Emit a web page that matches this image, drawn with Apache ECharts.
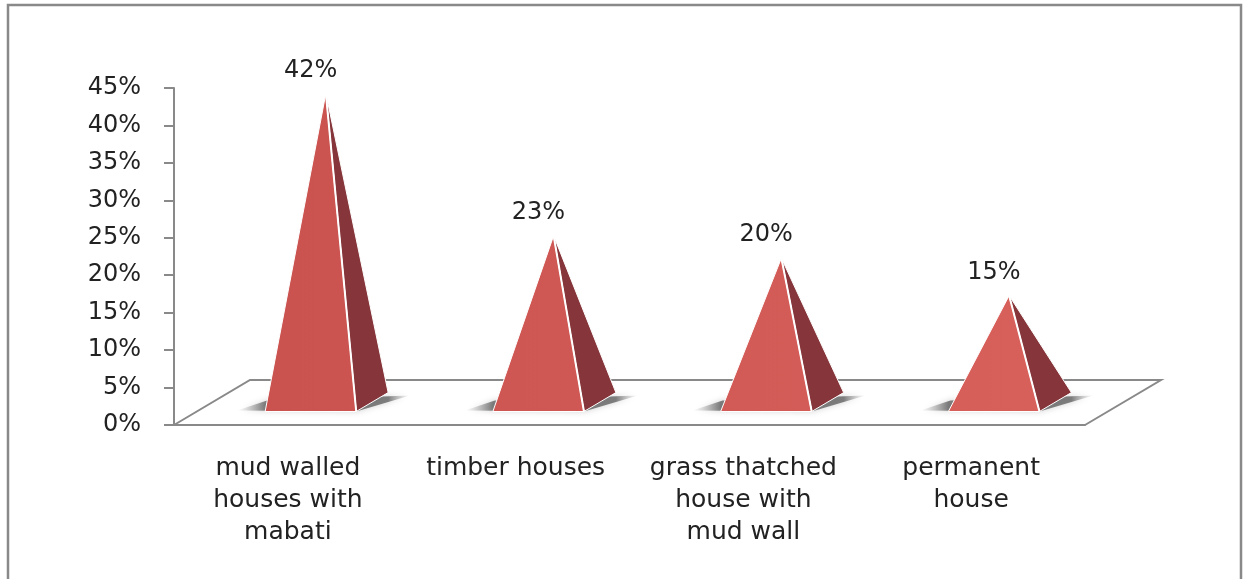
<!DOCTYPE html>
<html>
<head>
<meta charset="utf-8">
<script src="https://cdn.jsdelivr.net/npm/echarts@6/dist/echarts.min.js"></script>
<style>
  html, body { margin: 0; padding: 0; background: #fff; }
  #chart { width: 1246px; height: 579px; }
</style>
</head>
<body>
<div id="chart"></div>
<script>
// data
const categories = [
  'mud walled\nhouses with\nmabati',
  'timber houses',
  'grass thatched\nhouse with\nmud wall',
  'permanent\nhouse'
];
const shares = [0.42, 0.23, 0.20, 0.15];
const yMax = 0.45;
const yStep = 0.05;

// fake 3d floor depth (pixels from front edge to back edge)
const DX = 76, DY = -45;
const FONT = 'DejaVu Sans';
const GREY = '#898989';

function renderFloor(params, api) {
  const cs = params.coordSys;
  const x0 = cs.x, x1 = cs.x + cs.width, y0 = cs.y + cs.height;
  return {
    type: 'polyline',
    shape: { points: [[x0, y0], [x0 + DX, y0 + DY], [x1 + DX, y0 + DY], [x1, y0]] },
    style: { stroke: GREY, lineWidth: 2, fill: null }
  };
}

function renderPyramid(params, api) {
  const i = api.value(0), v = api.value(1);
  const base = api.coord([i, 0]);
  const top = api.coord([i, v]);
  const hw = api.size([1, 0])[0] * 0.2;
  const f0 = 0.3, f1 = 0.72;
  const fl = [base[0] - hw + DX * f0, base[1] + DY * f0];
  const fr = [base[0] + hw + DX * f0, base[1] + DY * f0];
  const br = [base[0] + hw + DX * f1, base[1] + DY * f1];
  const bl = [base[0] - hw + DX * f1, base[1] + DY * f1];
  const apex = [base[0] + DX * 0.5, top[1] + DY * 0.38];
  const cs = params.coordSys;

  // soft floor shadow around the footprint
  const sx0 = fl[0] - 28, sx1 = br[0] + 22;
  const p0 = (fl[0] - sx0) / (sx1 - sx0), p1 = (br[0] - sx0) / (sx1 - sx0);
  const shadow = {
    type: 'polygon',
    shape: { points: [[sx0, fl[1] - 1], fr, [sx1, br[1] + 3], [bl[0] - 30, bl[1] + 8]] },
    style: {
      fill: {
        type: 'linear', x: sx0, y: 0, x2: sx1, y2: 0, global: true,
        colorStops: [
          { offset: 0, color: 'rgba(140,140,140,0)' },
          { offset: p0, color: 'rgba(80,80,80,0.7)' },
          { offset: p1, color: 'rgba(80,80,80,0.7)' },
          { offset: 1, color: 'rgba(140,140,140,0)' }
        ]
      },
      shadowBlur: 6,
      shadowColor: 'rgba(0,0,0,0.25)'
    }
  };

  return {
    type: 'group',
    children: [
      shadow,
      {
        type: 'polygon',
        shape: { points: [fr, br, apex] },
        style: { fill: '#86353a', stroke: '#fff', lineWidth: 1 }
      },
      {
        type: 'polygon',
        shape: { points: [fl, fr, apex] },
        style: {
          fill: {
            type: 'linear', x: cs.x, y: 0, x2: cs.x + cs.width, y2: 0, global: true,
            colorStops: [{ offset: 0, color: '#c8514e' }, { offset: 1, color: '#d9615c' }]
          },
          stroke: '#fff', lineWidth: 1
        }
      },
      {
        type: 'line',
        shape: { x1: fr[0], y1: fr[1], x2: apex[0], y2: apex[1] },
        style: { stroke: '#fff', lineWidth: 2 }
      },
      {
        type: 'text',
        x: (fl[0] + fr[0]) / 2,
        y: apex[1] - 11,
        style: {
          text: Math.round(v * 100) + '%',
          align: 'center', verticalAlign: 'bottom',
          fontSize: 24, fontFamily: FONT, fill: '#222'
        }
      }
    ]
  };
}

const chart = echarts.init(document.getElementById('chart'));
chart.setOption({
  backgroundColor: '#fff',
  animation: false,
  graphic: [{
    type: 'rect',
    shape: { x: 8, y: 5, width: 1233, height: 600 },
    style: { fill: null, stroke: GREY, lineWidth: 2.5 }
  }],
  grid: { left: 174, right: 161, top: 88, bottom: 154 },
  xAxis: {
    type: 'category',
    data: categories,
    boundaryGap: true,
    axisLine: { lineStyle: { color: GREY, width: 2 } },
    axisTick: { length: 10, lineStyle: { color: GREY, width: 2 } },
    axisLabel: {
      interval: 0, margin: 27, color: '#222',
      fontFamily: FONT, fontSize: 25, lineHeight: 32
    },
    splitLine: { show: false }
  },
  yAxis: {
    type: 'value',
    min: 0, max: yMax, interval: yStep,
    axisLine: { show: true, lineStyle: { color: GREY, width: 2 } },
    axisTick: { show: true, length: 10, lineStyle: { color: GREY, width: 2 } },
    axisLabel: {
      margin: 33, color: '#222', fontFamily: FONT, fontSize: 24,
      formatter: v => Math.round(v * 100) + '%'
    },
    splitLine: { show: false }
  },
  series: [
    {
      type: 'custom',
      renderItem: renderFloor,
      data: [[0, 0]],
      silent: true,
      z: 1
    },
    {
      type: 'custom',
      renderItem: renderPyramid,
      data: shares.map((v, i) => [i, v]),
      z: 2
    }
  ]
});
</script>
</body>
</html>
